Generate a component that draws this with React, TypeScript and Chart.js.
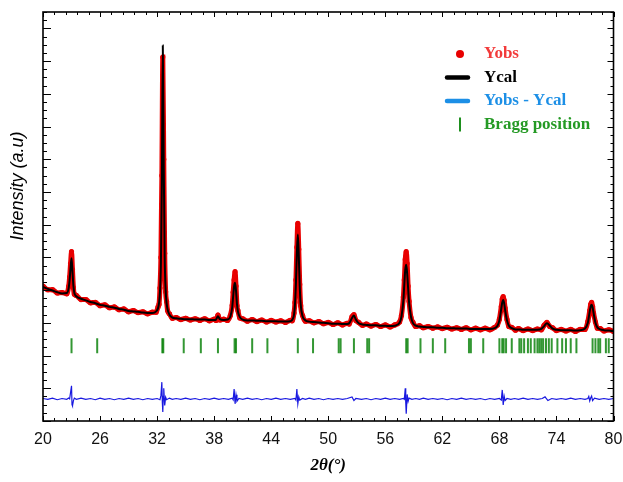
import React, { useEffect, useRef } from "react";
import { Chart, registerables } from "chart.js";

Chart.register(...registerables);

// Calculated profile (Ycal): [2θ, intensity]
const calcData: [number, number][] = [
  [20.0, 32.8], [20.5, 32.3], [21.0, 31.9], [21.5, 31.5], [22.0, 31.2], [22.5, 31.3],
  [22.7, 32.5], [22.8, 34.5], [22.9, 37.5], [23.0, 39.8], [23.1, 36.5], [23.2, 33.0],
  [23.3, 31.3], [23.5, 30.5], [24.0, 29.9], [24.5, 29.5], [25.0, 29.1], [25.5, 28.8],
  [26.0, 28.4], [26.5, 28.2], [27.0, 27.9], [27.5, 27.7], [28.0, 27.4], [28.5, 27.2],
  [29.0, 26.9], [29.5, 26.8], [30.0, 26.7], [30.5, 26.5], [31.0, 26.4], [31.5, 26.4],
  [31.9, 26.8], [32.1, 27.6], [32.2, 28.8], [32.3, 31.5], [32.4, 38.5], [32.5, 58.0],
  [32.6, 91.8], [32.7, 62.0], [32.8, 40.0], [32.9, 32.0], [33.0, 28.8], [33.1, 27.3],
  [33.3, 26.0], [33.6, 25.3], [34.0, 25.1], [34.5, 25.0], [35.0, 24.9], [35.5, 24.9],
  [36.0, 24.8], [36.5, 24.8], [37.0, 24.8], [37.5, 24.7], [38.0, 24.7], [38.2, 24.8],
  [38.4, 25.6], [38.6, 24.9], [39.0, 24.7], [39.4, 24.8], [39.7, 25.5], [39.9, 27.8],
  [40.0, 30.5], [40.1, 33.0], [40.2, 33.8], [40.3, 31.8], [40.4, 28.6], [40.5, 26.8],
  [40.7, 25.4], [41.0, 24.8], [41.5, 24.6], [42.0, 24.6], [42.5, 24.5], [43.0, 24.5],
  [43.5, 24.4], [44.0, 24.4], [44.5, 24.4], [45.0, 24.3], [45.5, 24.3], [46.0, 24.4],
  [46.2, 24.7], [46.4, 26.0], [46.5, 28.5], [46.6, 33.5], [46.7, 41.0], [46.8, 45.6],
  [46.9, 40.5], [47.0, 33.0], [47.1, 28.5], [47.3, 25.6], [47.6, 24.6], [48.0, 24.3],
  [48.5, 24.2], [49.0, 24.1], [49.5, 24.0], [50.0, 23.9], [50.5, 23.8], [51.0, 23.8],
  [51.5, 23.7], [52.0, 23.7], [52.2, 23.9], [52.5, 25.2], [52.7, 25.8], [52.9, 24.8],
  [53.2, 23.9], [53.6, 23.6], [54.0, 23.5], [54.5, 23.4], [55.0, 23.4], [55.5, 23.3],
  [56.0, 23.3], [56.5, 23.2], [57.0, 23.3], [57.5, 24.0], [57.7, 25.5], [57.9, 29.5],
  [58.0, 33.5], [58.1, 37.0], [58.2, 38.2], [58.3, 36.0], [58.4, 32.5], [58.5, 29.0],
  [58.7, 25.5], [58.9, 24.0], [59.2, 23.3], [59.6, 23.1], [60.0, 23.0], [60.5, 22.9],
  [61.0, 22.9], [61.5, 22.8], [62.0, 22.8], [62.5, 22.7], [63.0, 22.7], [63.5, 22.6],
  [64.0, 22.6], [64.5, 22.6], [65.0, 22.5], [65.5, 22.5], [66.0, 22.5], [66.5, 22.5],
  [67.0, 22.5], [67.5, 22.7], [67.8, 23.3], [68.0, 24.6], [68.2, 27.5], [68.3, 29.0],
  [68.4, 29.6], [68.5, 28.8], [68.6, 27.2], [68.8, 24.6], [69.0, 23.3], [69.3, 22.7],
  [69.7, 22.4], [70.0, 22.4], [70.5, 22.3], [71.0, 22.3], [71.5, 22.3], [72.0, 22.3],
  [72.4, 22.5], [72.7, 23.2], [73.0, 23.9], [73.3, 23.3], [73.6, 22.6], [74.0, 22.3],
  [74.5, 22.2], [75.0, 22.2], [75.5, 22.2], [76.0, 22.1], [76.5, 22.2], [77.0, 22.6],
  [77.3, 24.0], [77.5, 26.8], [77.6, 28.0], [77.7, 28.4], [77.8, 27.8], [77.9, 26.5],
  [78.1, 24.0], [78.3, 22.9], [78.6, 22.4], [79.0, 22.2], [79.5, 22.1], [80.0, 22.0],
];

// Observed profile (Yobs): [2θ, intensity]
const obsData: [number, number][] = [
  [20.0, 33.0], [20.5, 32.1], [21.0, 32.1], [21.5, 31.3], [22.0, 31.4], [22.5, 31.1],
  [22.7, 32.9], [22.8, 35.2], [22.9, 38.5], [23.0, 41.4], [23.1, 37.0], [23.2, 32.6],
  [23.3, 31.0], [23.5, 30.7], [24.0, 29.7], [24.5, 29.7], [25.0, 28.9], [25.5, 29.0],
  [26.0, 28.2], [26.5, 28.4], [27.0, 27.7], [27.5, 27.9], [28.0, 27.2], [28.5, 27.4],
  [29.0, 26.7], [29.5, 27.0], [30.0, 26.5], [30.5, 26.7], [31.0, 26.2], [31.5, 26.6],
  [31.9, 26.6], [32.1, 27.9], [32.2, 28.5], [32.3, 32.5], [32.4, 40.0], [32.5, 60.0],
  [32.6, 89.0], [32.7, 64.0], [32.8, 41.0], [32.9, 31.6], [33.0, 29.2], [33.1, 27.0],
  [33.3, 26.2], [33.6, 25.1], [34.0, 25.3], [34.5, 24.8], [35.0, 25.1], [35.5, 24.7],
  [36.0, 25.0], [36.5, 24.6], [37.0, 25.0], [37.5, 24.5], [38.0, 24.9], [38.2, 24.6],
  [38.4, 25.9], [38.6, 24.7], [39.0, 24.9], [39.4, 24.6], [39.7, 25.8], [39.9, 28.3],
  [40.0, 31.5], [40.1, 34.5], [40.2, 36.5], [40.3, 33.0], [40.4, 28.2], [40.5, 27.0],
  [40.7, 25.2], [41.0, 25.0], [41.5, 24.4], [42.0, 24.8], [42.5, 24.3], [43.0, 24.7],
  [43.5, 24.2], [44.0, 24.6], [44.5, 24.2], [45.0, 24.5], [45.5, 24.1], [46.0, 24.6],
  [46.2, 24.5], [46.4, 26.4], [46.5, 29.0], [46.6, 34.5], [46.7, 42.5], [46.8, 48.3],
  [46.9, 42.0], [47.0, 33.4], [47.1, 28.2], [47.3, 25.8], [47.6, 24.4], [48.0, 24.5],
  [48.5, 24.0], [49.0, 24.3], [49.5, 23.8], [50.0, 24.1], [50.5, 23.6], [51.0, 24.0],
  [51.5, 23.5], [52.0, 23.9], [52.2, 23.7], [52.5, 25.5], [52.7, 26.0], [52.9, 24.6],
  [53.2, 24.1], [53.6, 23.4], [54.0, 23.7], [54.5, 23.2], [55.0, 23.6], [55.5, 23.1],
  [56.0, 23.5], [56.5, 23.0], [57.0, 23.5], [57.5, 24.2], [57.7, 25.8], [57.9, 30.3],
  [58.0, 34.5], [58.1, 39.5], [58.2, 41.4], [58.3, 38.5], [58.4, 33.0], [58.5, 29.3],
  [58.7, 25.3], [58.9, 24.2], [59.2, 23.1], [59.6, 23.3], [60.0, 22.8], [60.5, 23.1],
  [61.0, 22.7], [61.5, 23.0], [62.0, 22.6], [62.5, 22.9], [63.0, 22.5], [63.5, 22.8],
  [64.0, 22.4], [64.5, 22.8], [65.0, 22.3], [65.5, 22.7], [66.0, 22.3], [66.5, 22.7],
  [67.0, 22.3], [67.5, 22.9], [67.8, 23.5], [68.0, 24.9], [68.2, 28.0], [68.3, 29.8],
  [68.4, 30.4], [68.5, 29.5], [68.6, 27.6], [68.8, 24.8], [69.0, 23.1], [69.3, 22.9],
  [69.7, 22.2], [70.0, 22.6], [70.5, 22.1], [71.0, 22.5], [71.5, 22.1], [72.0, 22.5],
  [72.4, 22.3], [72.7, 23.4], [73.0, 24.1], [73.3, 23.1], [73.6, 22.8], [74.0, 22.1],
  [74.5, 22.4], [75.0, 22.0], [75.5, 22.4], [76.0, 21.9], [76.5, 22.4], [77.0, 22.4],
  [77.3, 24.3], [77.5, 27.0], [77.6, 28.5], [77.7, 29.0], [77.8, 28.0], [77.9, 26.4],
  [78.1, 24.2], [78.3, 22.7], [78.6, 22.6], [79.0, 22.0], [79.5, 22.3], [80.0, 21.9],
];

// Difference curve (Yobs - Ycal, offset): [2θ, value]
const diffData: [number, number][] = [
  [20.0, 5.5], [20.5, 5.3], [21.0, 5.6], [21.5, 5.2], [22.0, 5.5], [22.5, 5.3], [22.7, 5.6],
  [22.8, 5.4], [22.9, 7.0], [23.0, 8.6], [23.05, 4.0], [23.1, 3.7], [23.2, 5.0], [23.3, 5.6],
  [23.5, 5.3], [24.0, 5.6], [24.5, 5.3], [25.0, 5.5], [25.5, 5.2], [26.0, 5.6], [26.5, 5.3],
  [27.0, 5.5], [27.5, 5.2], [28.0, 5.5], [28.5, 5.3], [29.0, 5.6], [29.5, 5.3], [30.0, 5.5],
  [30.5, 5.2], [31.0, 5.5], [31.5, 5.3], [32.0, 5.5], [32.3, 5.2], [32.4, 6.2], [32.5, 9.5],
  [32.55, 4.5], [32.6, 2.2], [32.65, 6.0], [32.7, 8.0], [32.8, 3.8], [32.9, 5.8], [33.0, 5.2],
  [33.3, 5.6], [33.6, 5.3], [34.0, 5.5], [34.5, 5.3], [35.0, 5.6], [35.5, 5.3], [36.0, 5.5],
  [36.5, 5.2], [37.0, 5.5], [37.5, 5.3], [38.0, 5.6], [38.5, 5.3], [39.0, 5.5], [39.5, 5.3],
  [39.9, 5.6], [40.0, 5.2], [40.1, 7.8], [40.2, 4.2], [40.3, 6.4], [40.4, 4.8], [40.6, 5.5],
  [41.0, 5.3], [41.5, 5.6], [42.0, 5.3], [42.5, 5.5], [43.0, 5.2], [43.5, 5.5], [44.0, 5.3],
  [44.5, 5.6], [45.0, 5.3], [45.5, 5.5], [46.0, 5.3], [46.5, 5.5], [46.6, 5.1], [46.7, 7.8],
  [46.8, 4.2], [46.9, 5.9], [47.0, 5.1], [47.3, 5.5], [47.6, 5.3], [48.0, 5.6], [48.5, 5.3],
  [49.0, 5.5], [49.5, 5.2], [50.0, 5.5], [50.5, 5.3], [51.0, 5.5], [51.5, 5.3], [52.0, 5.5],
  [52.5, 5.9], [52.7, 5.0], [52.9, 5.5], [53.5, 5.3], [54.0, 5.5], [54.5, 5.2], [55.0, 5.5],
  [55.5, 5.3], [56.0, 5.6], [56.5, 5.3], [57.0, 5.5], [57.5, 5.3], [57.9, 5.5], [58.0, 5.3],
  [58.1, 8.0], [58.15, 4.5], [58.2, 1.8], [58.3, 6.5], [58.4, 4.8], [58.5, 5.6], [58.8, 5.3],
  [59.2, 5.5], [59.6, 5.3], [60.0, 5.6], [60.5, 5.3], [61.0, 5.5], [61.5, 5.3], [62.0, 5.5],
  [62.5, 5.2], [63.0, 5.5], [63.5, 5.3], [64.0, 5.6], [64.5, 5.3], [65.0, 5.5], [65.5, 5.3],
  [66.0, 5.5], [66.5, 5.2], [67.0, 5.5], [67.5, 5.3], [68.0, 5.5], [68.2, 5.1], [68.3, 7.6],
  [68.4, 3.9], [68.5, 6.1], [68.6, 5.0], [68.8, 5.5], [69.2, 5.3], [69.6, 5.5], [70.0, 5.3],
  [70.5, 5.6], [71.0, 5.3], [71.5, 5.5], [72.0, 5.3], [72.5, 5.5], [72.8, 5.9], [73.1, 5.0],
  [73.5, 5.5], [74.0, 5.3], [74.5, 5.5], [75.0, 5.3], [75.5, 5.6], [76.0, 5.3], [76.5, 5.5],
  [77.0, 5.3], [77.3, 5.5], [77.4, 6.0], [77.5, 4.9], [77.6, 5.6], [77.7, 6.1], [77.8, 5.0],
  [78.0, 5.6], [78.5, 5.3], [79.0, 5.5], [79.5, 5.3], [80.0, 5.5],
];

// Bragg reflection positions (2θ)
const braggPositions: number[] = [
  23.0, 25.7, 32.55, 32.65, 34.8, 36.6, 38.4, 40.15, 40.3, 42.0, 43.6, 46.8, 48.4,
  51.1, 51.3, 52.7, 54.1, 54.3, 58.2, 58.35, 59.7, 61.0, 62.3, 64.8, 65.0, 66.3,
  68.0, 68.3, 68.45, 68.7, 69.3, 70.1, 70.3, 70.6, 71.0, 71.3, 71.7, 72.0, 72.2,
  72.4, 72.6, 72.9, 73.2, 73.5, 74.1, 74.6, 75.0, 75.5, 76.1, 77.8, 78.1, 78.4,
  78.6, 79.2, 79.5,
];
const braggLevel = 18.4;

const xTickValues: number[] = [20, 26, 32, 38, 44, 50, 56, 62, 68, 74, 80];
const legendLabels: string[] = ["Yobs", "Ycal", "Yobs - Ycal", "Bragg position"];
const xTitle = "2θ(°)";
const yTitle = "Intensity (a.u)";

const RED = "#e80000";
const BLACK = "#000000";
const BLUE = "#1818e0";
const GREEN = "rgba(0,125,0,0.8)";

const framePlugin = {
  id: "frameLegend",
  afterDraw(chart: any) {
    const { ctx, chartArea: a, scales } = chart;
    const xs = scales.x;
    const ys = scales.y;
    ctx.save();
    // frame
    ctx.strokeStyle = "#000";
    ctx.lineWidth = 1.6;
    ctx.strokeRect(a.left, a.top, a.right - a.left, a.bottom - a.top);
    ctx.lineWidth = 1;
    const seg = (x1: number, y1: number, x2: number, y2: number) => {
      ctx.beginPath();
      ctx.moveTo(x1, y1);
      ctx.lineTo(x2, y2);
      ctx.stroke();
    };
    // x ticks (minor every 1.2, major every 6)
    for (let i = 0; i <= 50; i++) {
      const px = Math.round(xs.getPixelForValue(20 + i * 1.2)) + 0.5;
      const major = i % 5 === 0;
      const len = major ? 5 : 3;
      seg(px, a.bottom, px, a.bottom - len);
      seg(px, a.top, px, a.top + len);
    }
    // y ticks
    for (let i = 0; i <= 50; i++) {
      const py = Math.round(ys.getPixelForValue(i * 2)) + 0.5;
      const major = i % 4 === 0;
      seg(a.left, py, a.left + (major ? 8 : 4), py);
      seg(a.right, py, a.right - (major ? 6 : 3), py);
    }

    // legend
    const mx = 458;
    const tx = 484;
    const rows = [54, 77.5, 101, 124.5];
    ctx.font = 'bold 17px "Times New Roman", "Liberation Serif", serif';
    ctx.textBaseline = "middle";
    ctx.textAlign = "left";
    // Yobs
    ctx.fillStyle = RED;
    ctx.beginPath();
    ctx.arc(mx + 2, rows[0], 4, 0, Math.PI * 2);
    ctx.fill();
    ctx.fillStyle = "#f23a3a";
    ctx.fillText(legendLabels[0], tx, rows[0]);
    // Ycal
    ctx.lineCap = "round";
    ctx.strokeStyle = BLACK;
    ctx.lineWidth = 4.5;
    seg(mx - 11, rows[1], mx + 10, rows[1]);
    ctx.fillStyle = "#000";
    ctx.fillText(legendLabels[1], tx, rows[1]);
    // Yobs - Ycal
    ctx.strokeStyle = "#1c8fe6";
    seg(mx - 11, rows[2], mx + 10, rows[2]);
    ctx.fillStyle = "#1c8fe6";
    ctx.fillText(legendLabels[2], tx, rows[2]);
    // Bragg
    ctx.lineCap = "butt";
    ctx.strokeStyle = "#1e8f1e";
    ctx.lineWidth = 2;
    seg(mx + 2, rows[3] - 7, mx + 2, rows[3] + 7);
    ctx.fillStyle = "#259a25";
    ctx.fillText(legendLabels[3], tx, rows[3]);

    // axis titles
    ctx.fillStyle = "#000";
    ctx.textAlign = "center";
    ctx.font = 'italic bold 17px "Times New Roman", "Liberation Serif", serif';
    ctx.fillText(xTitle, (a.left + a.right) / 2, 466);
    ctx.save();
    ctx.translate(18, 186);
    ctx.rotate(-Math.PI / 2);
    ctx.font = 'italic 18px Arial, "Liberation Sans", sans-serif';
    ctx.fillText(yTitle, 0, 0);
    ctx.restore();
    ctx.restore();
  },
};

export default function App() {
  const ref = useRef<HTMLCanvasElement>(null);
  useEffect(() => {
    document.body.style.margin = "0";
    const canvas = ref.current;
    if (!canvas) return;
    const chart = new Chart(canvas, {
      type: "scatter",
      data: {
        datasets: [
          {
            label: "Ycal",
            data: calcData.map(([x, y]) => ({ x, y })),
            showLine: true,
            borderColor: BLACK,
            borderWidth: 2,
            pointRadius: 0,
            cubicInterpolationMode: "monotone",
            order: 0,
          },
          {
            label: "Yobs",
            data: obsData.map(([x, y]) => ({ x, y })),
            showLine: true,
            borderColor: RED,
            borderWidth: 5,
            pointRadius: 2.6,
            pointBackgroundColor: RED,
            pointBorderWidth: 0,
            cubicInterpolationMode: "monotone",
            order: 1,
          },
          {
            label: "Yobs - Ycal",
            data: diffData.map(([x, y]) => ({ x, y })),
            showLine: true,
            borderColor: BLUE,
            borderWidth: 1.2,
            pointRadius: 0,
            order: 2,
          },
          {
            label: "Bragg position",
            data: braggPositions.map((x) => ({ x, y: braggLevel })),
            showLine: false,
            pointStyle: "line",
            pointRotation: 90,
            pointRadius: 7.5,
            pointBorderWidth: 2,
            pointBorderColor: GREEN,
            borderColor: GREEN,
            order: 3,
          },
        ] as any,
      },
      options: {
        animation: false,
        responsive: false,
        devicePixelRatio: 1,
        events: [],
        layout: { padding: { top: 12, right: 8, left: 0, bottom: 0 } },
        plugins: { legend: { display: false }, tooltip: { enabled: false } },
        scales: {
          x: {
            type: "linear",
            min: 20,
            max: 80,
            grid: { display: false, drawTicks: false },
            border: { display: false },
            afterBuildTicks: (s: any) => {
              s.ticks = xTickValues.map((v) => ({ value: v }));
            },
            afterFit: (s: any) => {
              s.height = 61;
              s.paddingLeft = 0;
              s.paddingRight = 0;
            },
            ticks: {
              autoSkip: false,
              maxRotation: 0,
              padding: 9,
              color: "#111",
              font: { family: 'Arial, "Liberation Sans", sans-serif', size: 16 },
            },
          },
          y: {
            type: "linear",
            min: 0,
            max: 100,
            grid: { display: false, drawTicks: false },
            border: { display: false },
            ticks: { display: false },
            afterFit: (s: any) => {
              s.width = 43;
              s.paddingTop = 0;
              s.paddingBottom = 0;
            },
          },
        },
      } as any,
      plugins: [framePlugin],
    });
    return () => chart.destroy();
  }, []);
  return (
    <div style={{ width: 623, height: 482 }}>
      <canvas ref={ref} width={623} height={482} />
    </div>
  );
}
